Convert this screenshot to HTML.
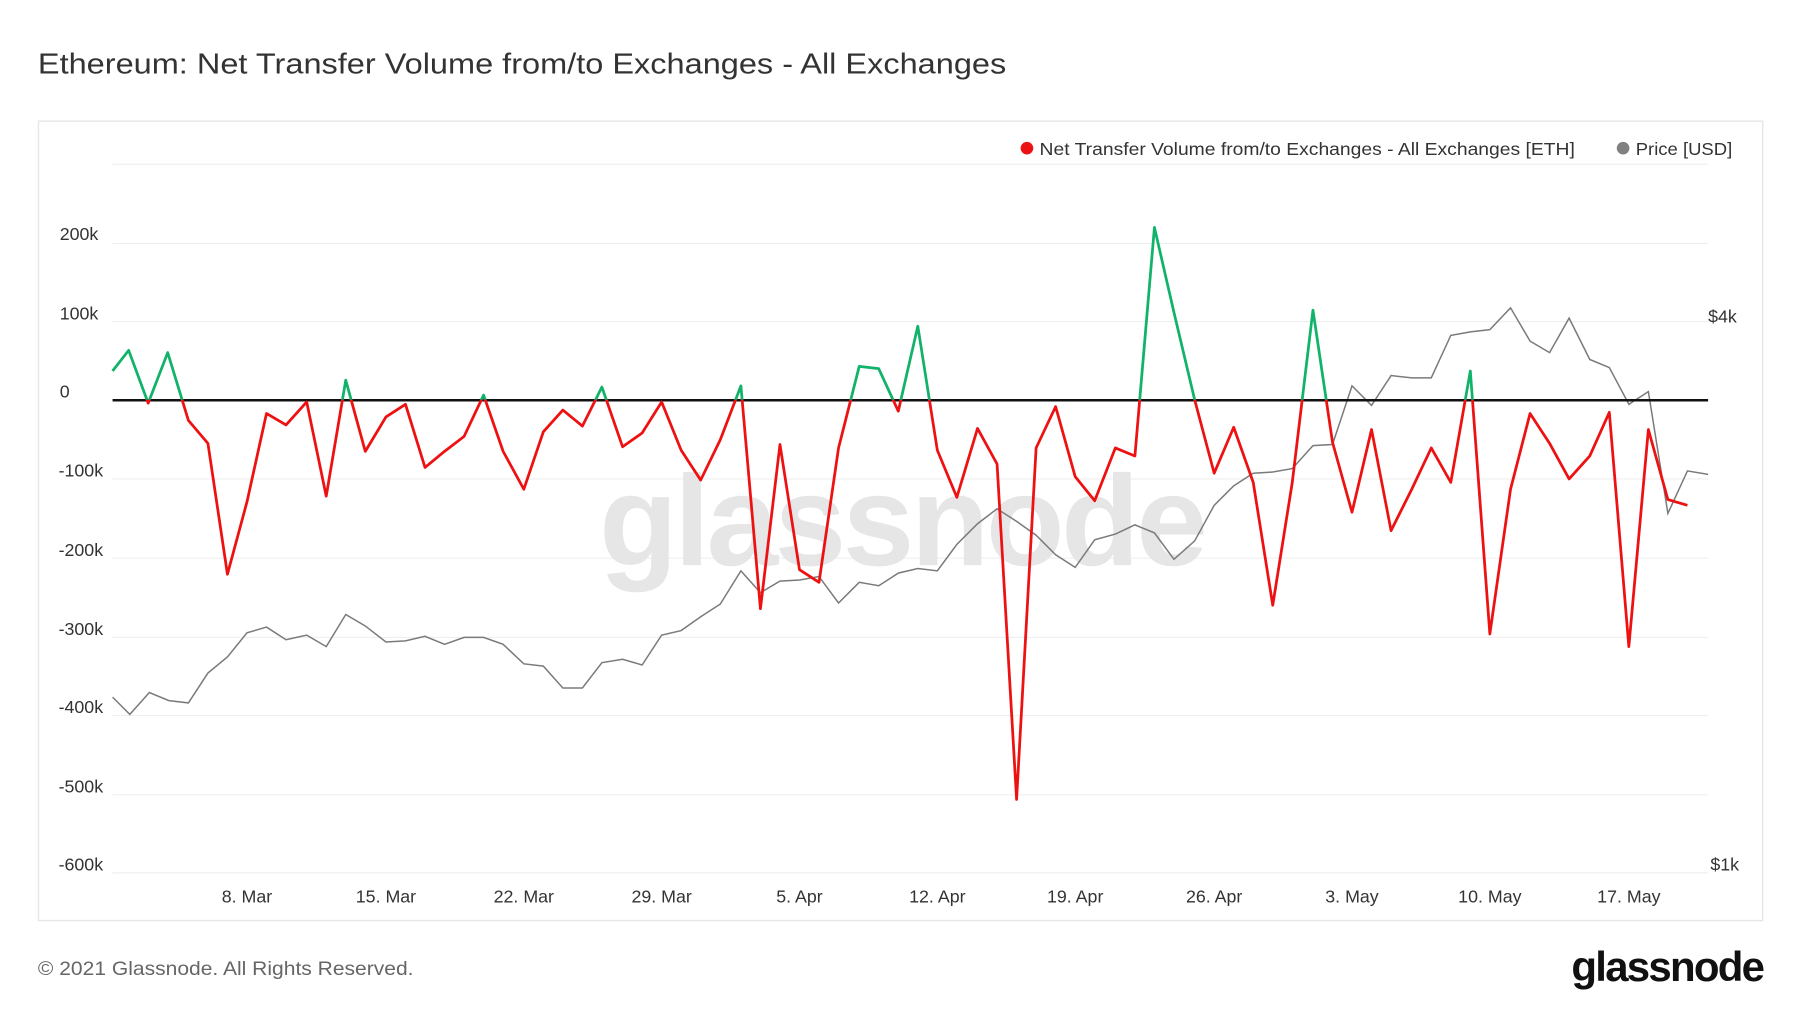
<!DOCTYPE html>
<html><head><meta charset="utf-8"><style>
html,body{margin:0;padding:0;background:#fff;width:1800px;height:1013px;overflow:hidden}
svg{display:block}
text{font-family:"Liberation Sans",sans-serif}
</style></head><body>
<svg width="1800" height="1013" viewBox="0 0 1567 882" preserveAspectRatio="none">
<defs>
<clipPath id="above"><rect x="90" y="0" width="1400" height="348"/></clipPath>
<clipPath id="below"><rect x="90" y="348" width="1400" height="500"/></clipPath>
</defs>
<text x="33" y="64" font-size="25" fill="#333" textLength="843" lengthAdjust="spacingAndGlyphs">Ethereum: Net Transfer Volume from/to Exchanges - All Exchanges</text>
<rect x="33.5" y="105.5" width="1501" height="696" fill="#fff" stroke="#e6e6e6" stroke-width="1.2"/>
<g stroke="#efefef" stroke-width="1">
<line x1="98" x2="1487" y1="143" y2="143"/><line x1="98" x2="1487" y1="212" y2="212"/>
<line x1="98" x2="1487" y1="280" y2="280"/><line x1="98" x2="1487" y1="417" y2="417"/>
<line x1="98" x2="1487" y1="486" y2="486"/><line x1="98" x2="1487" y1="555" y2="555"/>
<line x1="98" x2="1487" y1="623" y2="623"/><line x1="98" x2="1487" y1="692" y2="692"/>
<line x1="98" x2="1487" y1="760" y2="760"/>
</g>
<g font-size="15.5" fill="#333">
<text x="52" y="209">200k</text><text x="52" y="278">100k</text><text x="52" y="346">0</text>
<text x="51" y="415">-100k</text><text x="51" y="484">-200k</text><text x="51" y="553">-300k</text>
<text x="51" y="621">-400k</text><text x="51" y="690">-500k</text><text x="51" y="758">-600k</text>
<text x="1487" y="281">$4k</text><text x="1489" y="758">$1k</text>
</g>
<g font-size="15.5" fill="#333" text-anchor="middle">
<text x="215" y="786">8. Mar</text><text x="336" y="786">15. Mar</text><text x="456" y="786">22. Mar</text>
<text x="576" y="786">29. Mar</text><text x="696" y="786">5. Apr</text><text x="816" y="786">12. Apr</text>
<text x="936" y="786">19. Apr</text><text x="1057" y="786">26. Apr</text><text x="1177" y="786">3. May</text>
<text x="1297" y="786">10. May</text><text x="1418" y="786">17. May</text>
</g>
<text x="785" y="492" font-size="112" fill="#e6e6e6" text-anchor="middle" font-weight="bold" letter-spacing="-3">glassnode</text>
<circle cx="894" cy="129" r="5.5" fill="#ee1111"/>
<text x="905" y="135" font-size="15.5" fill="#333" textLength="466" lengthAdjust="spacingAndGlyphs">Net Transfer Volume from/to Exchanges - All Exchanges [ETH]</text>
<circle cx="1413" cy="129" r="5.5" fill="#808080"/>
<text x="1424" y="135" font-size="15.5" fill="#333" textLength="84" lengthAdjust="spacingAndGlyphs">Price [USD]</text>
<polyline fill="none" stroke="#7a7a7a" stroke-width="1.3" points="98,607 113,622 130,603 147,610 164,612 181,586 198,572 215,551 232,546 249,557 267,553 284,563 301,535 318,545 336,559 353,558 370,554 387,561 404,555 421,555 438,561 456,578 473,580 490,599 507,599 524,577 542,574 559,579 576,553 593,549 610,537 627,526 645,497 662,516 679,506 696,505 713,502 730,525 748,507 765,510 782,499 799,495 816,497 833,474 851,456 868,443 885,454 902,466 919,483 936,494 953,470 971,465 988,457 1005,464 1022,487 1040,471 1057,440 1074,423 1091,412 1108,411 1125,408 1143,388 1160,387 1177,336 1194,353 1211,327 1229,329 1246,329 1263,292 1280,289 1297,287 1315,268 1332,297 1349,307 1366,277 1384,313 1401,320 1418,352 1435,341 1452,447 1469,410 1487,413"/>
<line x1="98" x2="1487" y1="348.5" y2="348.5" stroke="#111" stroke-width="2.2"/>
<g fill="none" stroke-width="2.4" stroke-linejoin="round">
<polyline clip-path="url(#below)" stroke="#ee1111" points="98,323 112,305 129,351 146,307 164,366 181,386 198,500 215,437 232,360 249,370 267,350 284,432 301,331 318,393 336,363 353,352 370,407 387,393 404,380 421,344 438,393 456,426 473,376 490,357 507,371 524,337 542,389 559,377 576,350 593,392 610,418 627,383 645,336 662,530 679,387 696,496 713,507 730,390 748,319 765,321 782,358 799,284 816,392 833,433 851,373 868,404 885,696 902,390 919,354 936,415 953,436 971,390 988,397 1005,198 1022,272 1040,348 1057,412 1074,372 1091,420 1108,527 1125,420 1143,270 1160,385 1177,446 1194,374 1211,462 1229,426 1246,390 1263,420 1280,323 1297,552 1315,426 1332,360 1349,386 1366,417 1384,397 1401,359 1418,563 1435,374 1452,435 1469,440"/>
<polyline clip-path="url(#above)" stroke="#11b36b" points="98,323 112,305 129,351 146,307 164,366 181,386 198,500 215,437 232,360 249,370 267,350 284,432 301,331 318,393 336,363 353,352 370,407 387,393 404,380 421,344 438,393 456,426 473,376 490,357 507,371 524,337 542,389 559,377 576,350 593,392 610,418 627,383 645,336 662,530 679,387 696,496 713,507 730,390 748,319 765,321 782,358 799,284 816,392 833,433 851,373 868,404 885,696 902,390 919,354 936,415 953,436 971,390 988,397 1005,198 1022,272 1040,348 1057,412 1074,372 1091,420 1108,527 1125,420 1143,270 1160,385 1177,446 1194,374 1211,462 1229,426 1246,390 1263,420 1280,323 1297,552 1315,426 1332,360 1349,386 1366,417 1384,397 1401,359 1418,563 1435,374 1452,435 1469,440"/>
</g>
<text x="33" y="849" font-size="17" fill="#666" textLength="327" lengthAdjust="spacingAndGlyphs">© 2021 Glassnode. All Rights Reserved.</text>
<text x="1535" y="854" font-size="36" fill="#111" text-anchor="end" font-weight="bold" letter-spacing="-1.5" textLength="167" lengthAdjust="spacingAndGlyphs">glassnode</text>
</svg>
</body></html>
